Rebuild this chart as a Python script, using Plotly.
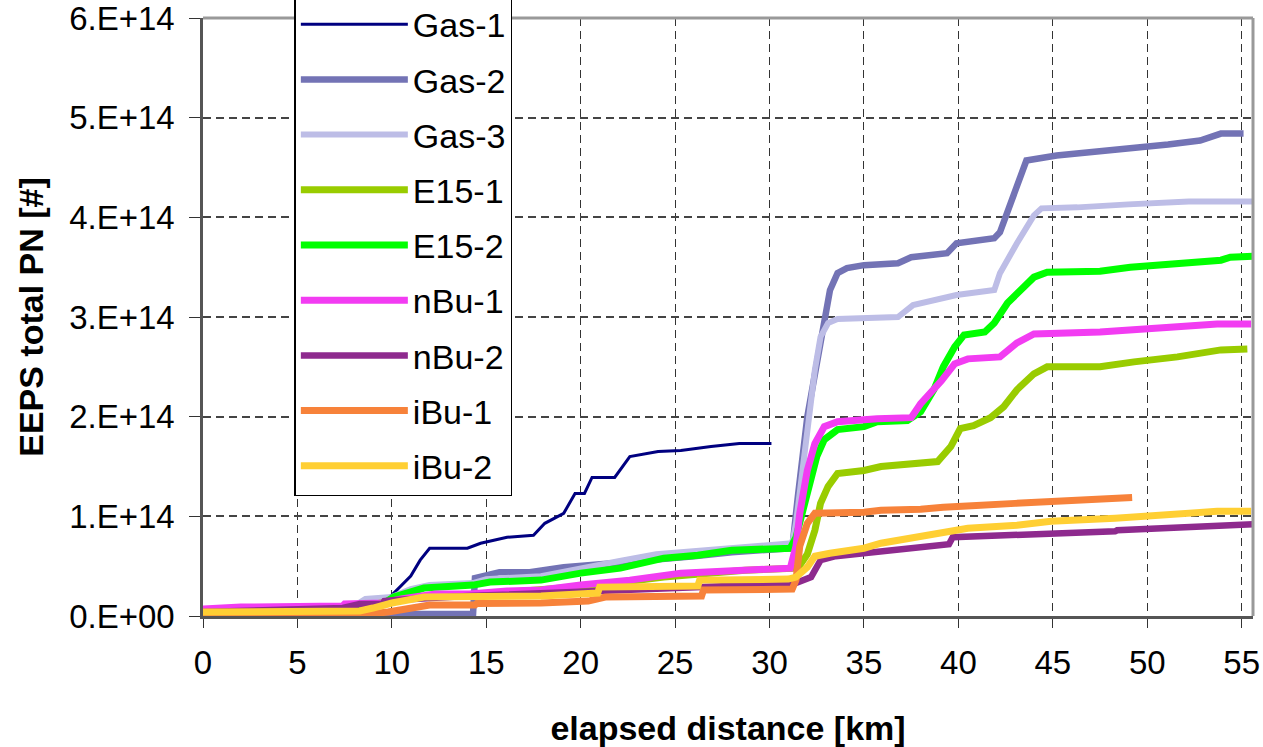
import plotly.graph_objects as go

SCALE = 1e14  # values below are in units of 1E14 particles

gas1_km = [0, 5, 8, 9.5, 10, 11, 11.5, 12, 14, 14.7, 16.1, 17.5, 18.1, 19.1, 19.7, 20.2, 20.6, 21.8, 22.6, 24.1, 25.3, 26.9, 28.4, 30.1]
gas1_pn = [0.05, 0.08, 0.10, 0.15, 0.21, 0.40, 0.56, 0.68, 0.68, 0.73, 0.79, 0.81, 0.93, 1.03, 1.23, 1.23, 1.39, 1.39, 1.60, 1.65, 1.66, 1.70, 1.73, 1.73]

gas2_km = [0, 14.3, 14.4, 15.7, 17.3, 19.1, 21.7, 24.0, 26.0, 28.0, 31.2, 31.5, 32.0, 32.5, 32.9, 33.2, 33.6, 34.1, 35.0, 36.8, 37.5, 39.4, 39.9, 41.9, 42.2, 42.6, 43.1, 43.6, 45.2, 47.5, 49.3, 51.1, 52.8, 53.9, 55.1]
gas2_pn = [0.02, 0.02, 0.38, 0.44, 0.44, 0.49, 0.53, 0.56, 0.60, 0.64, 0.68, 1.20, 2.00, 2.53, 2.97, 3.27, 3.44, 3.49, 3.52, 3.54, 3.60, 3.64, 3.74, 3.79, 3.85, 4.07, 4.34, 4.57, 4.62, 4.66, 4.69, 4.73, 4.77, 4.84, 4.84]

gas3_km = [0, 8, 8.6, 10, 11, 12, 14.3, 15, 17.9, 20, 22, 24, 26, 28, 31.2, 31.4, 31.6, 32.0, 32.4, 32.7, 33.1, 33.6, 36.8, 37.6, 39.9, 41.9, 42.2, 43.1, 44.0, 44.4, 46.3, 49.0, 52.2, 55.6]
gas3_pn = [0.05, 0.10, 0.17, 0.19, 0.27, 0.31, 0.33, 0.37, 0.40, 0.47, 0.55, 0.62, 0.65, 0.69, 0.73, 0.93, 1.26, 1.87, 2.47, 2.80, 2.94, 2.98, 3.00, 3.12, 3.22, 3.27, 3.44, 3.74, 4.02, 4.09, 4.10, 4.13, 4.16, 4.16]

e151_km = [0, 8, 10, 12, 15, 18.2, 21, 24.4, 28.7, 31.5, 32.0, 32.4, 32.7, 33.1, 33.6, 35.0, 35.9, 38.9, 39.6, 40.1, 40.8, 41.7, 42.4, 43.1, 44.0, 44.7, 47.5, 49.3, 51.6, 53.9, 55.3]
e151_pn = [0.05, 0.08, 0.15, 0.20, 0.22, 0.26, 0.31, 0.39, 0.46, 0.48, 0.62, 0.86, 1.13, 1.30, 1.43, 1.46, 1.50, 1.55, 1.70, 1.88, 1.91, 1.99, 2.10, 2.27, 2.43, 2.50, 2.50, 2.55, 2.60, 2.67, 2.68]

e152_km = [0, 8, 9.5, 10.1, 11.7, 14.3, 15.2, 17.9, 20, 22.1, 24.4, 26.2, 28, 31.1, 31.4, 31.8, 32.2, 32.5, 32.9, 33.6, 35.0, 35.7, 37.3, 38.0, 38.7, 39.2, 39.8, 40.3, 41.4, 41.9, 42.6, 43.5, 44.0, 44.7, 47.5, 49.1, 52.0, 53.9, 54.4, 55.6]
e152_pn = [0.05, 0.08, 0.12, 0.19, 0.28, 0.31, 0.34, 0.36, 0.43, 0.48, 0.58, 0.61, 0.66, 0.68, 0.79, 1.09, 1.40, 1.60, 1.77, 1.87, 1.90, 1.95, 1.96, 2.05, 2.27, 2.50, 2.70, 2.82, 2.85, 2.94, 3.14, 3.30, 3.40, 3.45, 3.46, 3.50, 3.54, 3.57, 3.60, 3.61]

nbu1_km = [0, 1.8, 2.0, 7.4, 7.5, 9.5, 10.5, 12.3, 14.1, 16.1, 17.9, 20, 22.6, 25.3, 28, 31.1, 31.4, 31.6, 32.0, 32.4, 32.9, 33.6, 35.7, 37.5, 38.0, 38.5, 39.1, 39.8, 40.5, 42.2, 43.1, 44.0, 47.5, 51.4, 53.7, 55.5]
nbu1_pn = [0.07, 0.08, 0.09, 0.10, 0.12, 0.13, 0.17, 0.22, 0.22, 0.25, 0.26, 0.31, 0.36, 0.43, 0.46, 0.48, 0.70, 1.03, 1.46, 1.73, 1.90, 1.95, 1.98, 1.99, 2.13, 2.23, 2.36, 2.53, 2.58, 2.60, 2.74, 2.83, 2.85, 2.90, 2.93, 2.93]

nbu2_km = [0, 7.4, 8.3, 9.5, 9.6, 10.2, 14, 20, 27.8, 31.0, 31.4, 32.2, 32.7, 33.5, 35.0, 36.8, 37.5, 39.5, 39.7, 41.5, 42.2, 45.0, 48.3, 48.4, 51.6, 54.4, 55.6]
nbu2_pn = [0.04, 0.08, 0.12, 0.12, 0.15, 0.16, 0.20, 0.24, 0.30, 0.33, 0.33, 0.39, 0.56, 0.60, 0.63, 0.66, 0.68, 0.72, 0.79, 0.80, 0.82, 0.83, 0.85, 0.86, 0.88, 0.91, 0.92]

ibu1_km = [0, 8.3, 9.8, 10.9, 12.0, 14.4, 14.5, 17.9, 20.4, 21.3, 26.4, 26.5, 31.2, 31.4, 31.6, 32.0, 32.4, 35.0, 35.9, 38.0, 39.2, 43.0, 45.4, 48.1, 49.2]
ibu1_pn = [0.01, 0.01, 0.04, 0.07, 0.11, 0.11, 0.125, 0.13, 0.15, 0.19, 0.20, 0.26, 0.27, 0.36, 0.70, 0.93, 1.03, 1.04, 1.06, 1.07, 1.09, 1.13, 1.16, 1.18, 1.19]

ibu2_km = [0, 8.3, 9.0, 10.0, 11.7, 17.9, 20.9, 21.0, 26.2, 26.3, 31.0, 31.4, 32.0, 32.4, 33.2, 35.0, 35.9, 36.9, 37.7, 38.7, 40.5, 43.1, 44.9, 48.3, 51.1, 53.7, 55.5]
ibu2_pn = [0.04, 0.05, 0.08, 0.13, 0.19, 0.20, 0.23, 0.29, 0.30, 0.36, 0.37, 0.39, 0.49, 0.60, 0.63, 0.68, 0.73, 0.76, 0.80, 0.83, 0.88, 0.91, 0.95, 0.98, 1.01, 1.05, 1.05]

series_names = ["Gas-1", "Gas-2", "Gas-3", "E15-1", "E15-2", "nBu-1", "nBu-2", "iBu-1", "iBu-2"]
series_km = [gas1_km, gas2_km, gas3_km, e151_km, e152_km, nbu1_km, nbu2_km, ibu1_km, ibu2_km]
series_pn = [gas1_pn, gas2_pn, gas3_pn, e151_pn, e152_pn, nbu1_pn, nbu2_pn, ibu1_pn, ibu2_pn]
series_colors = ["#000080", "#7373B5", "#BDBDE6", "#99CC00", "#00FF00", "#F23CF2", "#8E2A8E", "#F7823A", "#FFCF33"]
series_widths = [3, 6.5, 6, 7, 7, 7, 6.5, 7, 7]

x_tickvals = [0, 5, 10, 15, 20, 25, 30, 35, 40, 45, 50, 55]
x_ticktext = ["0", "5", "10", "15", "20", "25", "30", "35", "40", "45", "50", "55"]
y_tickvals = [0, 1, 2, 3, 4, 5, 6]
y_ticktext = ["0.E+00", "1.E+14", "2.E+14", "3.E+14", "4.E+14", "5.E+14", "6.E+14"]

FONT = "Liberation Sans, Arial, sans-serif"

fig = go.Figure()
for name, km, pn, col, w in zip(series_names, series_km, series_pn, series_colors, series_widths):
    fig.add_trace(go.Scatter(
        x=km, y=[v * SCALE for v in pn], mode="lines", name=name, legendgroup=name,
        line=dict(color=col, width=w),
    ))

fig.update_layout(
    width=1263, height=747,
    margin=dict(l=203, r=10, t=18, b=131, autoexpand=False),
    paper_bgcolor="white", plot_bgcolor="white",
    font=dict(family=FONT, size=33, color="black"),
    showlegend=True,
    legend=dict(
        x=0.087, y=1.04, xanchor="left", yanchor="top",
        bgcolor="white", bordercolor="black", borderwidth=1.5,
        font=dict(size=34, family=FONT), itemwidth=107,
        tracegroupgap=8, traceorder="grouped", maxheight=900,
    ),
    xaxis=dict(
        range=[0, 55.6], tickvals=x_tickvals, ticktext=x_ticktext,
        showgrid=True, gridcolor="#333333", gridwidth=1.2, griddash="8px,5px",
        showline=True, linecolor="#555555", linewidth=2.5,
        ticks="outside", ticklen=9, tickcolor="#333333", ticklabelstandoff=7,
        tickfont=dict(size=33), ticklabeloverflow="allow",
        zeroline=False,
        title=dict(text="<b>elapsed distance [km]</b>", font=dict(size=34, family=FONT), standoff=36),
    ),
    yaxis=dict(
        range=[0, 6 * SCALE], tickvals=[v * SCALE for v in y_tickvals], ticktext=y_ticktext,
        showgrid=True, gridcolor="#444444", gridwidth=1.5, griddash="8px,5px",
        showline=True, linecolor="#555555", linewidth=2.5,
        ticks="outside", ticklen=11, tickcolor="#333333", ticklabelstandoff=8,
        tickfont=dict(size=33), ticklabeloverflow="allow",
        zeroline=False,
        title=dict(text="<b>EEPS total PN [#]</b>", font=dict(size=34, family=FONT), standoff=16),
    ),
    shapes=[
        dict(type="line", xref="paper", yref="paper", x0=0, x1=1, y0=1, y1=1, line=dict(color="#999999", width=3)),
        dict(type="line", xref="paper", yref="paper", x0=1, x1=1, y0=0, y1=1, line=dict(color="#999999", width=3)),
    ],
)

fig.write_html(
    "out.html",
    config={"displayModeBar": False},
    post_script="document.body.style.margin='0';document.body.style.overflow='hidden';",
)
